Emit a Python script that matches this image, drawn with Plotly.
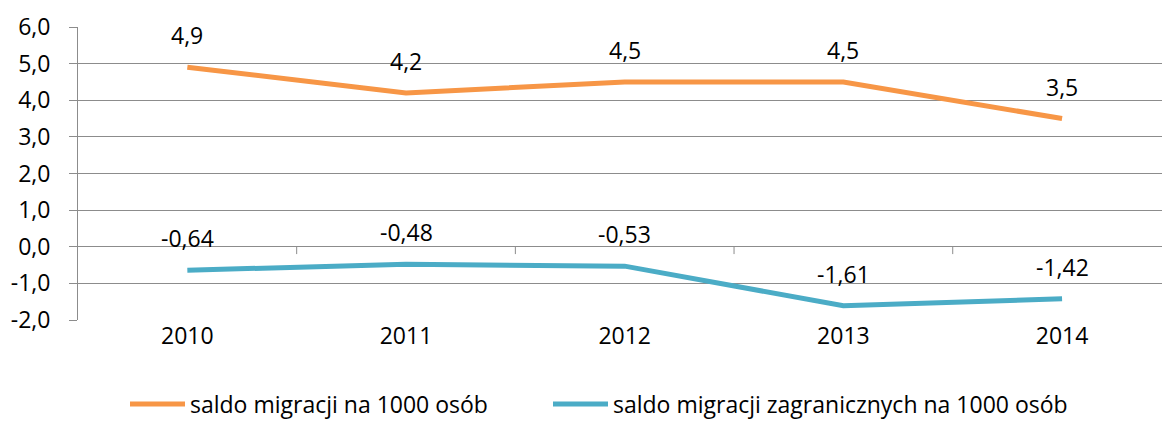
import plotly.graph_objects as go

years = ["2010", "2011", "2012", "2013", "2014"]
saldo_total = [4.9, 4.2, 4.5, 4.5, 3.5]
saldo_foreign = [-0.64, -0.48, -0.53, -1.61, -1.42]
y_ticks = [6, 5, 4, 3, 2, 1, 0, -1, -2]
y_tick_text = ["6,0", "5,0", "4,0", "3,0", "2,0", "1,0", "0,0", "-1,0", "-2,0"]

name_total = "saldo migracji na 1000 osób"
name_foreign = "saldo migracji zagranicznych na 1000 osób"

ORANGE = "#F79646"
BLUE = "#4BACC6"
GRID = "#8C8C8C"
FONT = "Open Sans"
FS = 23

x_idx = list(range(len(years)))

fig = go.Figure()
fig.add_trace(go.Scatter(x=x_idx, y=saldo_total, mode="lines", name=name_total,
                         line=dict(color=ORANGE, width=5), legend="legend"))
fig.add_trace(go.Scatter(x=x_idx, y=saldo_foreign, mode="lines", name=name_foreign,
                         line=dict(color=BLUE, width=5), legend="legend2"))


def fmt(v, d):
    return f"{v:.{d}f}".replace(".", ",")


annotations = []
for i, v in enumerate(saldo_total):
    annotations.append(dict(x=i, y=v, xref="x", yref="y", text=fmt(v, 1),
                            showarrow=False, yshift=32,
                            font=dict(family=FONT, size=FS, color="#000")))
for i, v in enumerate(saldo_foreign):
    annotations.append(dict(x=i, y=v, xref="x", yref="y", text=fmt(v, 2),
                            showarrow=False, yshift=32,
                            font=dict(family=FONT, size=FS, color="#000")))

# tick marks of the category axis, sitting on the zero line between categories
shapes = []
for b in [i + 0.5 for i in range(len(years) - 1)]:
    shapes.append(dict(type="line", xref="x", yref="y", x0=b, x1=b, y0=0, y1=-0.2,
                       line=dict(color=GRID, width=1), layer="below"))


def legend_box(x_px):
    return dict(orientation="h", xref="container", yref="container",
                x=x_px / 1162, xanchor="left", y=1 - 404 / 421, yanchor="middle",
                font=dict(family=FONT, size=FS, color="#000"),
                itemwidth=55, bgcolor="rgba(0,0,0,0)")


fig.update_layout(
    width=1162, height=421,
    margin=dict(l=78, r=0, t=27, b=101, autoexpand=False),
    paper_bgcolor="white", plot_bgcolor="white",
    font=dict(family=FONT, size=FS, color="#000"),
    showlegend=True,
    legend=legend_box(125),
    legend2=legend_box(548),
    annotations=annotations,
    shapes=shapes,
    xaxis=dict(range=[-0.5, 4.457], tickvals=x_idx, ticktext=years,
               showgrid=False, zeroline=False, showline=False, ticks="",
               tickfont=dict(family=FONT, size=FS), fixedrange=True),
    yaxis=dict(range=[-2, 6], tickvals=y_ticks, ticktext=y_tick_text,
               showgrid=True, gridcolor=GRID, gridwidth=1,
               zeroline=True, zerolinecolor=GRID, zerolinewidth=1,
               showline=True, linecolor=GRID, linewidth=1,
               ticks="outside", ticklen=8, tickcolor=GRID, ticklabelstandoff=14,
               tickfont=dict(family=FONT, size=FS), fixedrange=True),
)

fig.write_html("out.html")
